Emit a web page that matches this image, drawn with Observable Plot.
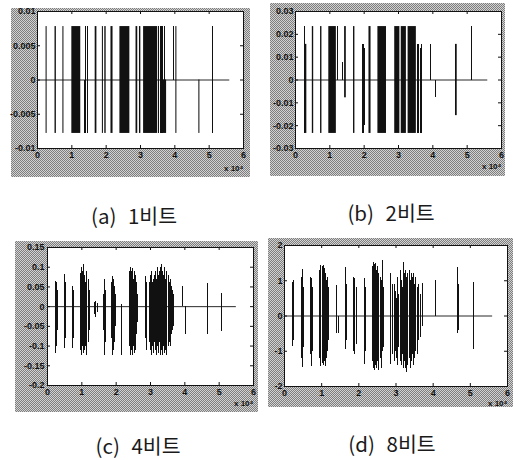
<!DOCTYPE html>
<html>
<head>
<meta charset="utf-8">
<script src="https://cdn.jsdelivr.net/npm/d3@7"></script>
<script src="https://cdn.jsdelivr.net/npm/@observablehq/plot@0.6"></script>
<style>
  html, body { margin: 0; padding: 0; background: #fff; }
  body { width: 513px; height: 460px; position: relative; overflow: hidden; }
  .panel { position: absolute; }
  .panel svg { display: block; }
  .cap { position: absolute; transform: translate(-50%, -50%); font-family: "Noto Sans CJK KR", "Noto Sans", sans-serif;
         font-size: 20.5px; line-height: 1; color: #1a1a1a; white-space: pre; word-spacing: 7px; }
</style>
</head>
<body>
<div id="pa" class="panel"></div>
<div id="pb" class="panel"></div>
<div id="pc" class="panel"></div>
<div id="pd" class="panel"></div>
<div id="ca" class="cap"></div>
<div id="cb" class="cap"></div>
<div id="cc" class="cap"></div>
<div id="cd" class="cap"></div>
<script>
// ---------- data (x in units of 10^4 samples) ----------
const xTicks = [0, 1, 2, 3, 4, 5, 6];
const expLabel = "x 10⁴";
const captions = ["(a) 1비트", "(b) 2비트", "(c) 4비트", "(d) 8비트"];
const signalEnd = [5.6, 5.6, 5.5, 5.6];

const aYTicks = [-0.01, -0.005, 0, 0.005, 0.01];
const bYTicks = [-0.03, -0.02, -0.01, 0, 0.01, 0.02, 0.03];
const cYTicks = [-0.2, -0.15, -0.1, -0.05, 0, 0.05, 0.1, 0.15];
const dYTicks = [-2, -1, 0, 1, 2];

// bursts: [start, end, low, high]
const aBursts = [
  [0.25, 0.28, -0.0078, 0.0078], [0.51, 0.55, -0.0078, 0.0078], [0.74, 0.77, -0.0078, 0.0078],
  [1.00, 1.26, -0.0078, 0.0078], [1.68, 1.73, -0.0078, 0.0078], [1.89, 1.92, -0.0078, 0.0078],
  [1.96, 2.00, -0.0078, 0.0078], [2.14, 2.20, -0.0078, 0.0078], [2.40, 2.69, -0.0078, 0.0078],
  [2.87, 2.92, -0.0078, 0.0078], [2.97, 3.01, -0.0078, 0.0078], [3.09, 3.50, -0.0078, 0.0078],
  [3.67, 3.76, -0.0078, 0], [4.03, 4.06, -0.0078, 0.0078], [4.70, 4.73, -0.0078, 0]
];
// single lines: [x, low, high]
const aLines = [
  [1.36, -0.0078, 0], [1.40, -0.0078, 0.0078], [1.47, -0.0078, 0.0078],
  [3.53, -0.0078, 0.0078], [3.57, -0.0078, 0.0078], [3.61, -0.0078, 0.0078], [3.65, -0.0078, 0.0078],
  [3.70, 0, 0.0078], [3.96, 0, 0.0078], [5.10, -0.0078, 0.0078]
];

const bBursts = [
  [0.29, 0.33, -0.0234, 0.0156], [0.49, 0.53, -0.0234, 0.0234], [0.73, 0.77, -0.0234, 0.0234],
  [0.97, 1.19, -0.0234, 0.0234], [1.43, 1.48, -0.0078, 0.0234], [1.69, 1.73, -0.0234, 0.0234],
  [2.14, 2.20, -0.0234, 0.0234], [2.40, 2.65, -0.0234, 0.0234], [2.89, 3.04, -0.0234, 0.0234],
  [3.08, 3.23, -0.0234, 0.0234], [3.28, 3.52, -0.0234, 0.0234], [4.66, 4.71, -0.0156, 0.0156]
];
const bLines = [
  [0.26, -0.0234, 0.0234], [1.23, 0, 0.0234], [1.36, 0, 0.0078],
  [1.96, -0.0234, 0.0156], [1.99, -0.0234, 0.0156], [2.02, -0.02, 0.014],
  [3.55, -0.0234, 0.0156], [3.59, -0.0234, 0.0156], [3.63, -0.0234, 0.014], [3.68, -0.0234, 0.0156],
  [3.92, 0, 0.0156], [4.07, -0.0078, 0], [5.12, 0, 0.0234]
];

const cBursts = [];
const cLines = [
  [0.22, -0.12, 0.065], [0.26, -0.10, 0.06], [0.29, -0.06, 0.04],
  [0.49, -0.106, 0.081], [0.53, -0.08, 0.06],
  [0.72, -0.106, 0.05], [0.76, -0.08, 0.04],
  [0.96, -0.11, 0.085], [1.00, -0.123, 0.1], [1.03, -0.1, 0.09], [1.06, -0.12, 0.107], [1.09, -0.11, 0.08],
  [1.12, -0.1, 0.06], [1.15, -0.123, 0.09], [1.18, -0.09, 0.07], [1.21, -0.06, 0.04],
  [1.37, -0.02, 0.01], [1.41, -0.028, 0.012], [1.45, -0.015, 0.008],
  [1.62, -0.06, 0.03], [1.66, -0.123, 0.07], [1.70, -0.09, 0.04],
  [1.85, -0.08, 0.06], [1.88, -0.123, 0.077], [1.91, -0.11, 0.07], [1.94, -0.09, 0.05], [1.98, -0.05, 0.03],
  [2.15, -0.123, 0.005],
  [2.38, -0.1, 0.09], [2.41, -0.123, 0.1], [2.44, -0.11, 0.09], [2.47, -0.123, 0.098], [2.50, -0.1, 0.07],
  [2.53, -0.12, 0.09], [2.56, -0.11, 0.08], [2.59, -0.07, 0.06], [2.62, -0.04, 0.03],
  [2.84, -0.08, 0.077], [2.88, -0.11, 0.06],
  [2.97, -0.09, 0.06], [3.00, -0.11, 0.08], [3.03, -0.123, 0.09], [3.06, -0.1, 0.06], [3.09, -0.12, 0.07],
  [3.12, -0.09, 0.08], [3.15, -0.11, 0.09], [3.18, -0.123, 0.07], [3.21, -0.1, 0.1], [3.24, -0.12, 0.08],
  [3.27, -0.09, 0.09], [3.30, -0.123, 0.1], [3.33, -0.11, 0.107], [3.36, -0.123, 0.09], [3.39, -0.1, 0.08],
  [3.42, -0.12, 0.1], [3.45, -0.11, 0.07], [3.48, -0.123, 0.09], [3.51, -0.1, 0.08], [3.54, -0.09, 0.06],
  [3.57, -0.1, 0.07], [3.60, -0.07, 0.05], [3.63, -0.06, 0.04], [3.67, -0.05, 0.03],
  [3.93, 0, 0.05], [4.03, -0.071, 0], [4.66, -0.071, 0.059], [5.08, -0.063, 0.033]
];

const dBursts = [];
const dLines = [
  [0.21, -0.86, 0.95], [0.25, -0.7, 1.0],
  [0.46, -1.2, 1.1], [0.49, -1.46, 1.33], [0.52, -0.9, 0.8],
  [0.69, -1.1, 1.1], [0.72, -1.42, 1.05], [0.76, -1.0, 0.8],
  [0.95, -1.2, 1.3], [0.98, -1.42, 1.43], [1.01, -1.35, 1.4], [1.04, -1.4, 1.43], [1.07, -1.3, 1.35],
  [1.10, -1.42, 1.2], [1.13, -1.2, 1.0], [1.16, -1.0, 1.1], [1.19, -0.7, 0.8],
  [1.39, -0.49, 0.87], [1.45, -0.49, 0],
  [1.64, -0.95, 1.38], [1.67, -0.7, 0.9],
  [1.86, -1.0, 1.1], [1.89, -1.1, 1.05], [1.93, -0.8, 0.8],
  [2.14, -1.37, 1.06], [2.17, -1.0, 0.8],
  [2.36, -1.3, 1.4], [2.39, -1.5, 1.52], [2.42, -1.56, 1.45], [2.45, -1.4, 1.5], [2.48, -1.5, 1.3],
  [2.51, -1.3, 1.4], [2.54, -1.56, 1.2], [2.57, -1.2, 1.1], [2.60, -1.5, 1.0], [2.63, -1.0, 1.57], [2.66, -0.9, 0.8],
  [2.86, -1.37, 1.2], [2.90, -1.1, 0.9],
  [2.96, -1.3, 0.9], [2.99, -1.0, 0.7], [3.02, -1.2, 0.5], [3.05, -1.4, 1.1], [3.08, -0.9, 0.6],
  [3.11, -1.3, 1.3], [3.14, -1.4, 1.0], [3.17, -1.1, 0.8], [3.20, -1.5, 1.52], [3.23, -1.3, 1.2],
  [3.26, -1.5, 1.3], [3.29, -1.61, 1.1], [3.32, -1.4, 1.2], [3.35, -1.2, 1.3], [3.38, -1.5, 1.0],
  [3.41, -1.3, 1.2], [3.44, -1.1, 1.1], [3.47, -1.4, 1.2], [3.50, -1.2, 0.9], [3.53, -1.0, 1.1],
  [3.57, -1.1, 0.8], [3.61, -0.7, 0.9], [3.65, -0.6, 0.6], [3.70, -0.3, 0.92],
  [4.05, 0, 1.0], [4.66, -0.49, 1.38], [4.69, -0.4, 0.9], [5.09, -0.95, 0.96]
];

// ---------- rendering ----------
const GRAY_BG = "repeating-conic-gradient(#7e7e7e 0 25%, #d2d2d2 0 50%) 0 0/2px 2px";

function renderPanel(id, cfg) {
  const innerW = cfg.width - cfg.mL - cfg.mR;
  const innerH = cfg.height - cfg.mT - cfg.mB;
  const el = document.getElementById(id);
  el.style.left = cfg.left + "px";
  el.style.top = cfg.top + "px";
  const fig = Plot.plot({
    width: cfg.width,
    height: cfg.height,
    marginLeft: cfg.mL, marginRight: cfg.mR, marginTop: cfg.mT, marginBottom: cfg.mB,
    style: `background: ${GRAY_BG}; font-family: 'Liberation Sans', Arial, sans-serif; font-size: 9px; font-weight: bold; color: #111; overflow: visible;`,
    x: {domain: [0, 6]},
    y: {domain: cfg.yDomain},
    marks: [
      Plot.frame({fill: "white"}),
      Plot.ruleY([cfg.end], {y: 0, x1: 0, x2: d => d, stroke: "#111", strokeWidth: 0.9}),
      Plot.rect(cfg.bursts, {x1: d => d[0], x2: d => d[1], y1: d => d[2], y2: d => d[3], fill: "#111"}),
      Plot.ruleX(cfg.lines, {x: d => d[0], y1: d => d[1], y2: d => d[2], stroke: "#111", strokeWidth: 1, shapeRendering: "crispEdges"}),
      Plot.tickY(cfg.yTicks, {y: d => d, insetRight: innerW - 3, stroke: "#111"}),
      Plot.tickY(cfg.yTicks, {y: d => d, insetLeft: innerW - 3, stroke: "#111"}),
      Plot.tickX(xTicks, {x: d => d, insetTop: innerH - 3, stroke: "#111"}),
      Plot.tickX(xTicks, {x: d => d, insetBottom: innerH - 3, stroke: "#111"}),
      Plot.frame({stroke: "#111"}),
      Plot.axisY({ticks: cfg.yTicks, tickSize: 0, tickPadding: cfg.yPad, tickFormat: d => String(d), label: null}),
      Plot.axisX({ticks: xTicks, tickSize: 0, tickPadding: 3, tickFormat: d => String(d), label: null}),
      Plot.text([expLabel], {frameAnchor: "bottom-right", dy: cfg.expDy, textAnchor: "end", text: d => d, fontSize: 8})
    ]
  });
  el.appendChild(fig);
}

renderPanel("pa", {left: 11, top: 8, width: 239, height: 169, mL: 26, mR: 7, mT: 3, mB: 29,
  yDomain: [-0.01, 0.01], yTicks: aYTicks, bursts: aBursts, lines: aLines, end: signalEnd[0], yPad: 2, expDy: 22});
renderPanel("pb", {left: 270, top: 3, width: 235, height: 173, mL: 25, mR: 4, mT: 8, mB: 28,
  yDomain: [-0.03, 0.03], yTicks: bYTicks, bursts: bBursts, lines: bLines, end: signalEnd[1], yPad: 2, expDy: 20});
renderPanel("pc", {left: 15, top: 241, width: 243, height: 171, mL: 32, mR: 5, mT: 6, mB: 27,
  yDomain: [-0.2, 0.15], yTicks: cYTicks, bursts: cBursts, lines: cLines, end: signalEnd[2], yPad: 3, expDy: 20});
renderPanel("pd", {left: 268, top: 238, width: 245, height: 169, mL: 16, mR: 6, mT: 7, mB: 21,
  yDomain: [-2, 2], yTicks: dYTicks, bursts: dBursts, lines: dLines, end: signalEnd[3], yPad: 2, expDy: 19});

const capPos = [[134, 215], [391, 212], [138, 445], [392, 443]];
["ca", "cb", "cc", "cd"].forEach((id, i) => {
  const el = document.getElementById(id);
  el.textContent = captions[i];
  el.style.left = capPos[i][0] + "px";
  el.style.top = capPos[i][1] + "px";
});
</script>
</body>
</html>
